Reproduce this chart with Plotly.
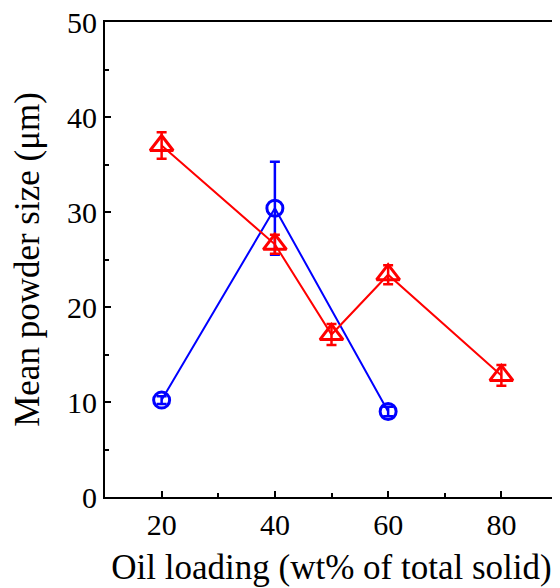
import plotly.graph_objects as go

# Data
blue_x = [20, 40, 60]
blue_y = [10.2, 30.4, 9.0]
blue_err = [0.4, 4.9, 0.5]

red_x = [20, 40, 50, 60, 80]
red_y = [37.0, 26.6, 17.1, 23.4, 12.8]
red_err = [1.4, 1.0, 1.1, 1.0, 1.1]

x_ticks = [20, 40, 60, 80]
y_ticks = [0, 10, 20, 30, 40, 50]

FONT = "Liberation Serif, Times New Roman, serif"

fig = go.Figure()
fig.add_trace(go.Scatter(
    x=blue_x, y=blue_y, mode="lines+markers",
    line=dict(color="#0000FF", width=2),
    marker=dict(symbol="circle-open", size=16, color="#0000FF", line=dict(width=3, color="#0000FF")),
    error_y=dict(type="data", array=blue_err, color="#0000FF", thickness=2.5, width=5),
    showlegend=False,
))
fig.add_trace(go.Scatter(
    x=red_x, y=red_y, mode="lines+markers",
    line=dict(color="#FF0000", width=2),
    marker=dict(symbol="triangle-up-open", size=20, color="#FF0000", line=dict(width=3, color="#FF0000")),
    error_y=dict(type="data", array=red_err, color="#FF0000", thickness=2.5, width=5),
    showlegend=False,
))

fig.update_layout(
    width=552, height=580,
    margin=dict(l=97, r=2, t=14, b=91),
    paper_bgcolor="white", plot_bgcolor="white",
    font=dict(family=FONT, color="black", size=30),
    xaxis=dict(
        range=[10, 90], tickvals=x_ticks, ticks="inside", ticklen=6, tickwidth=2,
        tickcolor="black", showline=True, linecolor="black", linewidth=2, mirror=True,
        showgrid=False, zeroline=False, automargin=False, ticklabeloverflow="allow",
        minor=dict(ticks="inside", dtick=10, tick0=0, ticklen=4, tickwidth=2, tickcolor="black", showgrid=False),
        tickfont=dict(size=30),
        title=dict(text="Oil loading (wt% of total solid)", font=dict(size=35), standoff=14),
    ),
    yaxis=dict(
        range=[0, 50], tickvals=y_ticks, ticks="inside", ticklen=6, tickwidth=2,
        tickcolor="black", showline=True, linecolor="black", linewidth=2, mirror=True,
        showgrid=False, zeroline=False, automargin=False, ticklabeloverflow="allow",
        minor=dict(ticks="inside", dtick=5, tick0=0, ticklen=4, tickwidth=2, tickcolor="black", showgrid=False),
        tickfont=dict(size=30),
        title=dict(text="Mean powder size (μm)", font=dict(size=35), standoff=19),
    ),
)

fig.write_html("out.html")
